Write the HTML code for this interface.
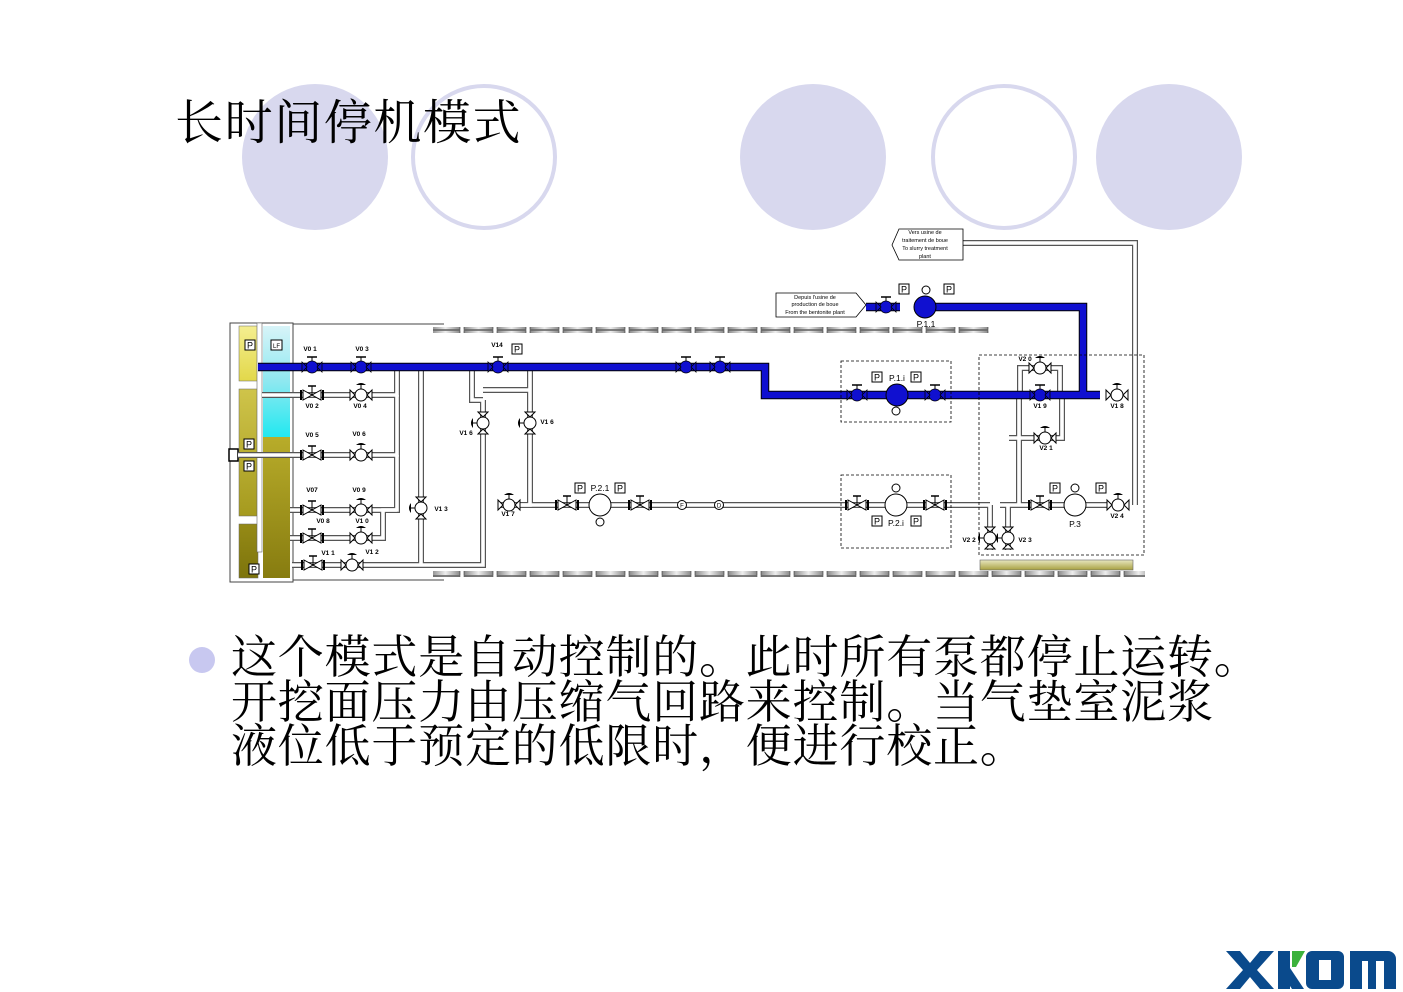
<!DOCTYPE html>
<html><head><meta charset="utf-8"><style>
html,body{margin:0;padding:0;background:#fff;}
body{width:1403px;height:992px;position:relative;overflow:hidden;}
.t{position:absolute;font-family:"Liberation Serif","Noto Serif CJK SC",serif;color:#000;white-space:nowrap;}
</style></head><body>
<svg width="1403" height="992" style="position:absolute;left:0;top:0" xmlns="http://www.w3.org/2000/svg">
<defs>
<linearGradient id="y1" x1="0" y1="0" x2="0" y2="1"><stop offset="0" stop-color="#f4ee90"/><stop offset="1" stop-color="#e2d84a"/></linearGradient>
<linearGradient id="y2" x1="0" y1="0" x2="0" y2="1"><stop offset="0" stop-color="#cfc44a"/><stop offset="1" stop-color="#a59a1e"/></linearGradient>
<linearGradient id="y3" x1="0" y1="0" x2="0" y2="1"><stop offset="0" stop-color="#958a16"/><stop offset="1" stop-color="#7d740c"/></linearGradient>
<linearGradient id="cy" x1="0" y1="0" x2="0" y2="1"><stop offset="0" stop-color="#d8f4f8"/><stop offset="0.5" stop-color="#8ee8f0"/><stop offset="1" stop-color="#22e8f0"/></linearGradient>
<linearGradient id="ol" x1="0" y1="0" x2="0" y2="1"><stop offset="0" stop-color="#b8ac2a"/><stop offset="1" stop-color="#877c10"/></linearGradient>
<linearGradient id="bar" x1="0" y1="0" x2="1" y2="0"><stop offset="0" stop-color="#888"/><stop offset="0.5" stop-color="#eee"/><stop offset="1" stop-color="#888"/></linearGradient>
<linearGradient id="gr" x1="0" y1="0" x2="0" y2="1"><stop offset="0" stop-color="#e8e6c0"/><stop offset="1" stop-color="#a8a040"/></linearGradient>
<pattern id="pb" width="33" height="6" patternUnits="userSpaceOnUse"><rect width="33" height="6" fill="#fff"/><rect x="2" y="0.5" width="29" height="5" fill="url(#bar)" stroke="#333" stroke-width="0.6"/></pattern>
<g id="vw"><path d="M-9,-5 L0,0 L-9,5Z M9,-5 L0,0 L9,5Z" fill="#fff" stroke="#000" stroke-width="1"/><line x1="0" y1="0" x2="0" y2="-9" stroke="#000"/><line x1="-4" y1="-9" x2="4" y2="-9" stroke="#000" stroke-width="1.5"/><rect x="-12" y="-5" width="2" height="10" fill="#000"/><rect x="10" y="-5" width="2" height="10" fill="#000"/></g>
<g id="vb"><circle r="6" fill="#1010d0" stroke="#000" stroke-width="0.8"/><path d="M-10,-5 L-5,0 L-10,5Z M10,-5 L5,0 L10,5Z" fill="#1010d0" stroke="#000" stroke-width="0.8"/><line x1="0" y1="-6" x2="0" y2="-10" stroke="#000"/><line x1="-5" y1="-10" x2="5" y2="-10" stroke="#000" stroke-width="1.5"/></g>
<g id="vr"><circle r="6" fill="#fff" stroke="#000"/><path d="M-11,-5 L-6,0 L-11,5Z M11,-5 L6,0 L11,5Z" fill="#fff" stroke="#000"/><line x1="0" y1="-6" x2="0" y2="-10" stroke="#000"/><path d="M-5,-10 Q0,-14 5,-10Z" fill="#000"/></g>
<g id="vv"><circle r="6" fill="#fff" stroke="#000"/><path d="M-5,-11 L0,-6 L5,-11Z M-5,11 L0,6 L5,11Z" fill="#fff" stroke="#000"/><line x1="-6" y1="0" x2="-10" y2="0" stroke="#000"/><path d="M-10,-5 Q-14,0 -10,5Z" fill="#000"/></g>
<g id="pp"><rect x="-5" y="-6" width="10" height="10" fill="#fff" stroke="#000"/><text x="0" y="2.5" font-size="9" text-anchor="middle" font-family="Liberation Sans">P</text></g>
</defs>

<circle cx="315" cy="157" r="73" fill="#d8d8ee"/>
<circle cx="484" cy="157" r="71" fill="none" stroke="#d8d8ee" stroke-width="4"/>
<circle cx="813" cy="157" r="73" fill="#d8d8ee"/>
<circle cx="1004" cy="157" r="71" fill="none" stroke="#d8d8ee" stroke-width="4"/>
<circle cx="1169" cy="157" r="73" fill="#d8d8ee"/>

<rect x="433" y="327" width="558" height="6" fill="url(#pb)"/>
<rect x="433" y="571" width="712" height="6" fill="url(#pb)"/>
<rect x="980" y="560" width="153" height="10" fill="url(#gr)" stroke="#666" stroke-width="0.6"/>
<line x1="292" y1="324" x2="444" y2="324" stroke="#444"/><line x1="292" y1="580" x2="444" y2="580" stroke="#444"/>

<rect x="230" y="323" width="63" height="259" fill="#fff" stroke="#444"/>
<rect x="239" y="326" width="19" height="55" fill="url(#y1)" stroke="#666" stroke-width="0.5"/>
<rect x="239" y="389" width="19" height="127" fill="url(#y2)" stroke="#666" stroke-width="0.5"/>
<rect x="239" y="524" width="19" height="54" fill="url(#y3)" stroke="#666" stroke-width="0.5"/>
<rect x="263" y="326" width="27" height="111" fill="url(#cy)"/>
<rect x="263" y="437" width="27" height="141" fill="url(#ol)"/>
<rect x="257" y="323" width="5" height="229" fill="#fff" stroke="#666" stroke-width="0.6"/>
<rect x="229" y="449" width="9" height="12" fill="#fff" stroke="#000" stroke-width="1.5"/>
<use href="#pp" x="250" y="346"/><use href="#pp" x="249" y="445"/><use href="#pp" x="249" y="467"/><use href="#pp" x="254" y="570"/>
<rect x="271" y="340" width="11" height="10" fill="#fff" stroke="#000"/><text x="276.5" y="348" font-size="6" text-anchor="middle" font-family="Liberation Sans">LF</text>

<g fill="none" stroke="#555" stroke-width="6" stroke-linejoin="miter">
<path d="M262,395 H397 V367"/><path d="M238,455 H397 V395"/><path d="M290,510 H397"/><path d="M290,538 H383 V510 H397 V455"/>
<path d="M292,565 H483 V400"/><path d="M421,367 V565"/>
<path d="M472,367 V400 H483"/><path d="M530,367 V390 H483 M530,390 V505 H500"/>
<path d="M515,505 H990"/>
<path d="M1000,505 H1110 M1135,505 V243 H963"/>
<path d="M1019,395 V505 M1062,395 V438 H1019 M1009,438 H1045"/>
<path d="M990,505 V550 M1008,505 V550"/>
<path d="M1020,395 V368 H1060 V395"/>
</g>
<g fill="none" stroke="#fff" stroke-width="3.6">
<path d="M262,395 H397 V367"/><path d="M238,455 H397 V395"/><path d="M290,510 H397"/><path d="M290,538 H383 V510 H397 V455"/>
<path d="M292,565 H483 V400"/><path d="M421,367 V565"/>
<path d="M472,367 V400 H483"/><path d="M530,367 V390 H483 M530,390 V505 H500"/>
<path d="M515,505 H990"/>
<path d="M1000,505 H1110 M1135,505 V243 H963"/>
<path d="M1019,395 V505 M1062,395 V438 H1019 M1009,438 H1045"/>
<path d="M990,505 V550 M1008,505 V550"/>
<path d="M1020,395 V368 H1060 V395"/>
</g>

<g fill="none" stroke="#000" stroke-width="8.5"><path d="M258,367 H765 V395 H1100"/><path d="M1083,395 V307 H925"/><path d="M866,307 H900"/></g>
<g fill="none" stroke="#1010d0" stroke-width="6.5"><path d="M258,367 H765 V395 H1100"/><path d="M1083,395 V307 H925"/><path d="M866,307 H900"/></g>

<use href="#vb" x="312" y="367"/><use href="#vb" x="361" y="367"/><use href="#vb" x="498" y="367"/>
<use href="#vb" x="686" y="367"/><use href="#vb" x="720" y="367"/>
<use href="#vw" x="312" y="395"/><use href="#vr" x="361" y="395"/>
<use href="#vw" x="312" y="455"/><use href="#vr" x="361" y="455"/>
<use href="#vw" x="312" y="510"/><use href="#vr" x="361" y="510"/>
<use href="#vw" x="312" y="538"/><use href="#vr" x="361" y="538"/>
<use href="#vw" x="313" y="565"/><use href="#vr" x="352" y="565"/>
<use href="#vv" x="421" y="508"/><use href="#vv" x="483" y="423"/><use href="#vv" x="530" y="423"/>
<use href="#vr" x="509" y="505"/>
<use href="#vw" x="567" y="505"/><use href="#vw" x="640" y="505"/>
<use href="#vw" x="857" y="505"/><use href="#vw" x="935" y="505"/>
<use href="#vw" x="1040" y="505"/><use href="#vr" x="1118" y="505"/>
<use href="#vb" x="857" y="395"/><use href="#vb" x="935" y="395"/><use href="#vb" x="1040" y="395"/>
<use href="#vr" x="1117" y="395"/><use href="#vr" x="1040" y="368"/><use href="#vr" x="1045" y="438"/>
<use href="#vv" x="990" y="538"/><use href="#vv" x="1008" y="538"/>
<use href="#vb" x="886" y="307"/>

<circle cx="925" cy="307" r="11" fill="#1010d0" stroke="#000"/>
<circle cx="897" cy="395" r="11" fill="#1010d0" stroke="#000"/>
<circle cx="600" cy="505" r="11" fill="#fff" stroke="#000"/>
<circle cx="896" cy="505" r="11" fill="#fff" stroke="#000"/>
<circle cx="1075" cy="505" r="11" fill="#fff" stroke="#000"/>
<g font-family="Liberation Sans" font-size="7" text-anchor="middle">
<circle cx="926" cy="290" r="4" fill="#fff" stroke="#000"/><circle cx="896" cy="411" r="4" fill="#fff" stroke="#000"/><circle cx="600" cy="522" r="4" fill="#fff" stroke="#000"/><circle cx="896" cy="488" r="4" fill="#fff" stroke="#000"/><circle cx="1075" cy="488" r="4" fill="#fff" stroke="#000"/>
<circle cx="682" cy="505" r="4.5" fill="#fff" stroke="#000"/><text x="682" y="507.5" font-size="6">F</text>
<circle cx="719" cy="505" r="4.5" fill="#fff" stroke="#000"/><text x="719" y="507.5" font-size="6">D</text>
</g>
<use href="#pp" x="904" y="290"/><use href="#pp" x="949" y="290"/><use href="#pp" x="517" y="350"/>
<use href="#pp" x="877" y="378"/><use href="#pp" x="916" y="378"/>
<use href="#pp" x="580" y="489"/><use href="#pp" x="620" y="489"/>
<use href="#pp" x="877" y="522"/><use href="#pp" x="916" y="522"/>
<use href="#pp" x="1055" y="489"/><use href="#pp" x="1101" y="489"/>

<g fill="none" stroke="#000" stroke-width="0.8" stroke-dasharray="3,2">
<rect x="841" y="361" width="110" height="61"/><rect x="841" y="475" width="110" height="73"/><rect x="979" y="355" width="165" height="200"/>
</g>

<path d="M776,293 H856 L866,305 L856,317 H776Z" fill="#fff" stroke="#000" stroke-width="0.8"/>
<path d="M899,229 H963 V260 H899 L892,245Z" fill="#fff" stroke="#000" stroke-width="0.8"/>
<g font-family="Liberation Sans" font-size="5.5" text-anchor="middle">
<text x="815" y="299">Depuis l'usine de</text><text x="815" y="306">production de boue</text><text x="815" y="314">From the bentonite plant</text>
<text x="925" y="234">Vers usine de</text><text x="925" y="242">traitement de boue</text><text x="925" y="250">To slurry treatment</text><text x="925" y="258">plant</text>
</g>

<g font-family="Liberation Sans" font-size="6.5" font-weight="bold" text-anchor="middle">
<text x="310" y="351">V0 1</text><text x="362" y="351">V0 3</text><text x="497" y="347">V14</text>
<text x="312" y="408">V0 2</text><text x="360" y="408">V0 4</text>
<text x="312" y="437">V0 5</text><text x="359" y="436">V0 6</text>
<text x="312" y="492">V07</text><text x="359" y="492">V0 9</text>
<text x="323" y="523">V0 8</text><text x="362" y="523">V1 0</text>
<text x="328" y="555">V1 1</text><text x="372" y="554">V1 2</text>
<text x="441" y="511">V1 3</text><text x="466" y="435">V1 6</text><text x="547" y="424">V1 6</text><text x="508" y="516">V1 7</text>
<text x="1025" y="361">V2 0</text><text x="1040" y="408">V1 9</text><text x="1117" y="408">V1 8</text><text x="1046" y="450">V2 1</text>
<text x="1117" y="518">V2 4</text><text x="969" y="542">V2 2</text><text x="1025" y="542">V2 3</text>
</g>
<g font-family="Liberation Sans" font-size="8.5" text-anchor="middle">
<text x="926" y="327">P.1.1</text><text x="897" y="381">P.1.i</text><text x="600" y="491">P.2.1</text><text x="896" y="526">P.2.i</text><text x="1075" y="527">P.3</text>
</g>

<circle cx="202" cy="660" r="13" fill="#c8c8f0"/>

<g fill="#0a4a8c">
<path d="M1226,951 h14 l10,12 l10,-12 h14 l-17,19 l17,19 h-14 l-10,-12 l-10,12 h-14 l17,-19z"/>
<rect x="1278" y="951" width="12" height="38"/>
<path d="M1290,968 l14,21 h-12 l-10,-15z"/>
<path d="M1312,951 h26 a6,6 0 0 1 6,6 v26 a6,6 0 0 1 -6,6 h-26 a6,6 0 0 1 -6,-6 v-26 a6,6 0 0 1 6,-6z M1319,960 v20 h12 v-20z" fill-rule="evenodd"/>
<path d="M1350,951 h38 a8,8 0 0 1 8,8 v30 h-12 v-28 h-8 v28 h-8 v-28 h-6 v28 h-12z"/>
</g>
<path d="M1292,951 h13 l-9,16 h-4z" fill="#3cb23c"/>
</svg>

<div class="t" style="left:175px;top:94px;font-size:48px;letter-spacing:1.6px;line-height:60px;">长时间停机模式</div>
<div class="t" style="left:231px;top:636px;font-size:46px;letter-spacing:0.8px;line-height:44.5px;">这个模式是自动控制的。此时所有泵都停止运转。<br>开挖面压力由压缩气回路来控制。当气垫室泥浆<br>液位低于预定的低限时，便进行校正。</div>
</body></html>
